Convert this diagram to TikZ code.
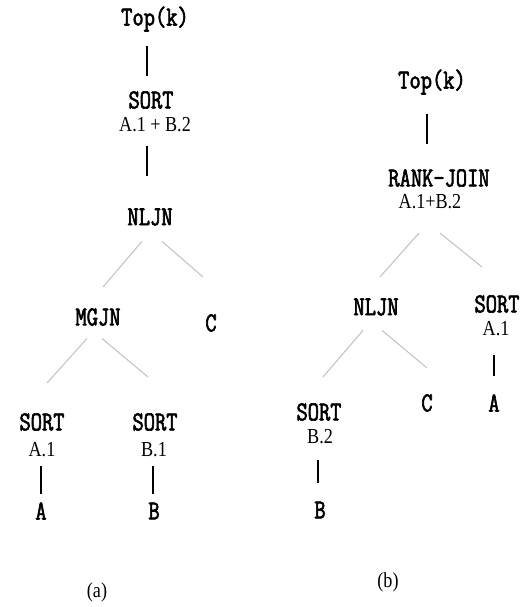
\documentclass[tikz,border=0pt]{standalone}
\usepackage{fontspec}
\setmainfont{Liberation Serif}
\newfontfamily\opfont{Latin Modern Mono}[FakeBold=2.2, FakeStretch=0.8]
\newfontfamily\argfont{Liberation Serif}[FakeStretch=0.85]
\tikzset{every picture/.style={line width=0.75pt}}
\tikzset{
  op/.style={font=\opfont\fontsize{20.5}{22}\selectfont, inner sep=1pt},
  arg/.style={font=\argfont\fontsize{16}{18}\selectfont, inner sep=1pt},
  caption/.style={font=\argfont\fontsize{16}{18}\selectfont, inner sep=1pt},
  stem/.style={draw=black, line width=0.9pt},
  branch/.style={draw={rgb, 255:red, 195; green, 195; blue, 195}, line width=0.8pt}
}

\begin{document}
\begin{tikzpicture}[x=0.75pt,y=0.75pt,yscale=-1,xscale=1]
	\path[use as bounding box] (0,0) rectangle (521,607);

	% Plan (a)
	\node[op] (topA) at (155,19) {Top(k)};
	\node[op] (sortA) at (151,100) {SORT};
	\node[arg] (argA) at (155,125) {A.1 + B.2};
	\node[op] (nljnA) at (150,217) {NLJN};
	\node[op] (mgjnA) at (98,317) {MGJN};
	\node[op] (cA) at (211,323) {C};
	\node[op] (sortA1) at (42,422) {SORT};
	\node[arg] (argA1) at (42,450) {A.1};
	\node[op] (leafA) at (41,511) {A};
	\node[op] (sortB1) at (155,422) {SORT};
	\node[arg] (argB1) at (154,450) {B.1};
	\node[op] (leafB) at (154,511) {B};
	\node[caption] (capA) at (97,592) {(a)};

	% Plan (b)
	\node[op] (topB) at (432,82) {Top(k)};
	\node[op] (rankB) at (439,178) {RANK-JOIN};
	\node[arg] (argR) at (430,202) {A.1+B.2};
	\node[op] (nljnB) at (376,307) {NLJN};
	\node[op] (sortR) at (497,304) {SORT};
	\node[arg] (argR1) at (496,329) {A.1};
	\node[op] (leafR) at (494,403) {A};
	\node[op] (cB) at (427,403) {C};
	\node[op] (sortB2) at (319,412) {SORT};
	\node[arg] (argB2) at (320,437) {B.2};
	\node[op] (leafB2) at (320,510) {B};
	\node[caption] (capB) at (388,582) {(b)};

	% free ends of the branches
	\coordinate (aL1) at (103,287);
	\coordinate (aR1) at (203,277);
	\coordinate (aL2) at (47,383);
	\coordinate (aR2) at (148,377);
	\coordinate (bL1) at (380,277);
	\coordinate (bR1) at (482,267);
	\coordinate (bL2) at (323,377);
	\coordinate (bR2) at (427,368);

	% stems
	\draw[stem] (topA.south) ++(-8,13) -- ++(0,30);
	\draw[stem] (argA.south) ++(-8,12) -- ++(0,30);
	\draw[stem] (argA1.south) ++(-1,7) -- ++(0,28);
	\draw[stem] (argB1.south) ++(-1,7) -- ++(0,28);
	\draw[stem] (topB.south) ++(-5,18) -- ++(0,30);
	\draw[stem] (argR1.south) ++(-2,17) -- ++(0,21);
	\draw[stem] (argB2.south) ++(-2,14) -- ++(0,23);

	% branches
	\draw[branch] (nljnA.south) ++(-8,14) -- (aL1);
	\draw[branch] (nljnA.south) ++(12,14) -- (aR1);
	\draw[branch] (mgjnA.south) ++(-11,11) -- (aL2);
	\draw[branch] (mgjnA.south) ++(4,11) -- (aR2);
	\draw[branch] (argR.south) ++(-11,22) -- (bL1);
	\draw[branch] (argR.south) ++(10,22) -- (bR1);
	\draw[branch] (nljnB.south) ++(-13,13) -- (bL2);
	\draw[branch] (nljnB.south) ++(6,13) -- (bR2);

\end{tikzpicture}
\end{document}
